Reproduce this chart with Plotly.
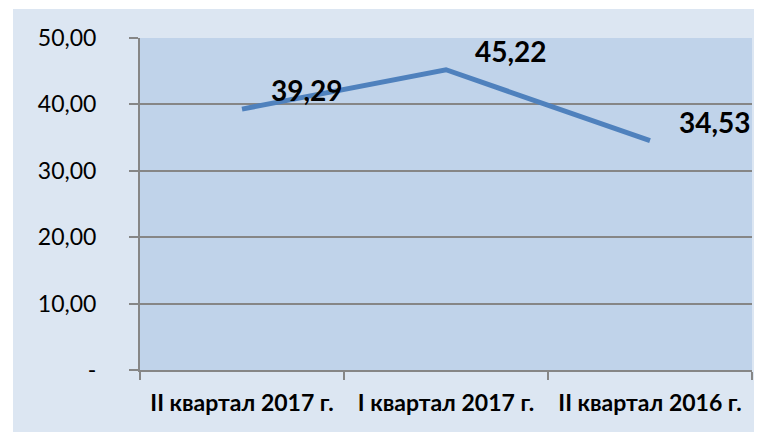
import plotly.graph_objects as go

categories = ["II квартал 2017 г.", "I квартал 2017 г.", "II квартал 2016 г."]
values = [39.29, 45.22, 34.53]
value_labels = ["39,29", "45,22", "34,53"]
y_tickvals = [0, 10, 20, 30, 40, 50]
y_ticktext = ["-", "10,00", "20,00", "30,00", "40,00", "50,00"]

# page has an 8px body margin, so the figure is laid out in page coords - 8
OFF = 8
W, H = 762 - OFF, 432 - OFF
L, T = 140 - OFF, 38 - OFF
R = W - (752 - OFF)
B = H - (370 - OFF)
pw, ph = W - L - R, H - T - B

fig = go.Figure()
fig.add_trace(go.Scatter(
    x=categories, y=values, mode="lines",
    line=dict(color="#4F81BD", width=5),
    hoverinfo="skip", showlegend=False,
))

for c, v, t in zip(categories, values, value_labels):
    fig.add_annotation(
        x=c, y=v, text=t, showarrow=False,
        xshift=65, yshift=19,
        font=dict(family="Lato", size=28, color="#000000", weight="bold"),
    )

# light-blue chart area with white outer margin
fig.add_shape(
    type="rect", xref="paper", yref="paper", layer="below",
    x0=(13 - OFF - L) / pw, x1=(W - L) / pw,
    y0=(T + ph - H) / ph, y1=(T + ph - (9 - OFF)) / ph,
    fillcolor="#DCE6F2", line=dict(width=0),
)
# plot-area fill
fig.add_shape(
    type="rect", xref="paper", yref="paper", layer="below",
    x0=0, x1=1, y0=0, y1=1,
    fillcolor="#C0D3EA", line=dict(width=0),
)

fig.update_layout(
    width=W, height=H,
    margin=dict(l=L, r=R, t=T, b=B),
    paper_bgcolor="#FFFFFF",
    plot_bgcolor="#C0D3EA",
    showlegend=False,
    xaxis=dict(
        type="category", range=[-0.5, 2.5],
        tickson="boundaries", ticks="outside", ticklen=8, tickwidth=2,
        tickcolor="#868686",
        showgrid=False, showline=True, linecolor="#868686", linewidth=2,
        tickfont=dict(family="Lato", size=23, color="#000000", weight="bold"),
        ticklabelstandoff=11, fixedrange=True,
    ),
    yaxis=dict(
        range=[0, 50], tickvals=y_tickvals, ticktext=y_ticktext,
        ticks="outside", ticklen=9, tickwidth=2, tickcolor="#868686",
        showgrid=True, gridcolor="#868686", gridwidth=2,
        showline=True, linecolor="#868686", linewidth=2,
        zeroline=False,
        tickfont=dict(family="Lato", size=23, color="#000000"),
        ticklabelstandoff=28, fixedrange=True,
    ),
)

fig.write_html("out.html")
